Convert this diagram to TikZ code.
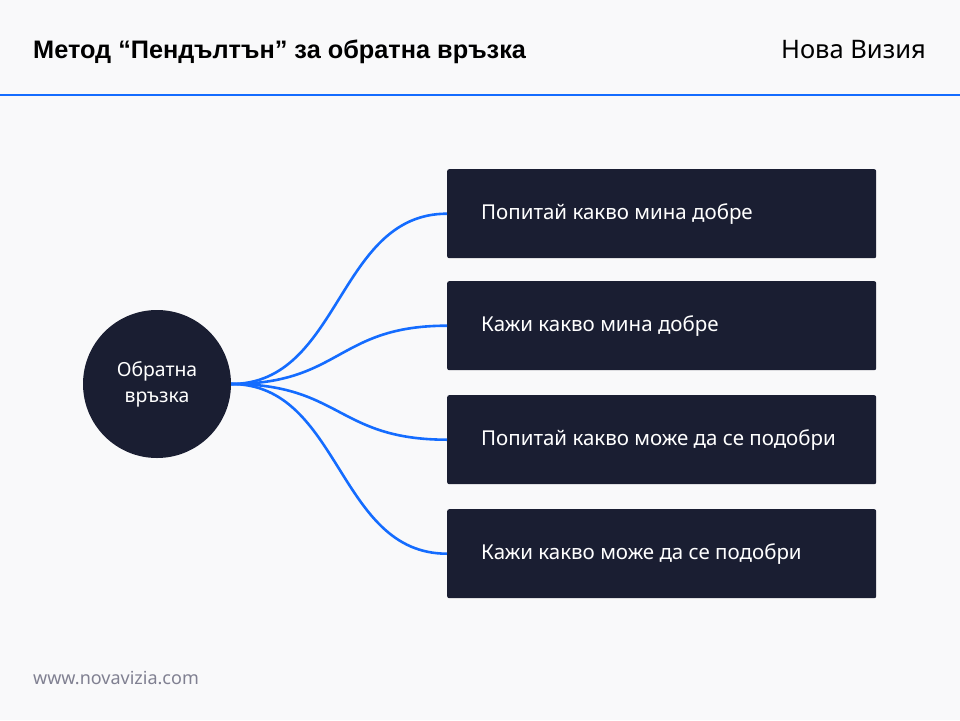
\documentclass[tikz,border=0pt]{standalone}
\usepackage{fontspec}
\setmainfont{Noto Sans}
\newfontfamily\titlefont{Liberation Sans}
\definecolor{bg}{RGB}{249,249,250}
\definecolor{navy}{RGB}{26,30,50}
\definecolor{accent}{RGB}{20,108,255}
\definecolor{foot}{RGB}{128,128,145}
\begin{document}
\begin{tikzpicture}[x=1pt,y=-1pt,
  box/.style={fill=navy,rounded corners=2pt,minimum width=429pt,minimum height=89pt,anchor=north west,inner sep=0pt},
  boxtext/.style={text=white,font=\fontsize{20.5}{24}\selectfont,anchor=west,inner sep=0pt},
  link/.style={draw=accent,line width=2.6pt}]
\fill[bg] (0,0) rectangle (960,720);
\useasboundingbox (0,0) rectangle (960,720);
\node[anchor=base west,inner sep=0pt,font=\titlefont\fontsize{25.3}{28}\selectfont\bfseries] (title) at (33,58) {Метод “Пендълтън” за обратна връзка};
\node[anchor=base east,inner sep=0pt,font=\fontsize{25.5}{28}\selectfont] (brand) at (926,58) {Нова Визия};
\draw[accent,line width=2pt] (0,95) coordinate (l1) -- (960,95) coordinate (l2);
\node[circle,fill=navy,minimum size=148pt,inner sep=0pt,text=white,align=center,font=\fontsize{19.4}{26}\selectfont] (c) at (157,384) {Обратна\\връзка};
\node[box] (b1) at (447,169) {};
\node[box] (b2) at (447,281) {};
\node[box] (b3) at (447,395) {};
\node[box] (b4) at (447,509) {};
\node[boxtext] (t1) at (481,214) {Попитай какво мина добре};
\node[boxtext] (t2) at (481,326) {Кажи какво мина добре};
\node[boxtext] (t3) at (481,440) {Попитай какво може да се подобри};
\node[boxtext] (t4) at (481,554) {Кажи какво може да се подобри};
\foreach \b in {b1,b2,b3,b4}
  \draw[link] (c.east) .. controls +(110,0) and +(-110,0) .. (\b.west);
\node[anchor=base west,inner sep=0pt,text=foot,font=\fontsize{18}{20}\selectfont] (url) at (33,684) {www.novavizia.com};
\end{tikzpicture}
\end{document}
